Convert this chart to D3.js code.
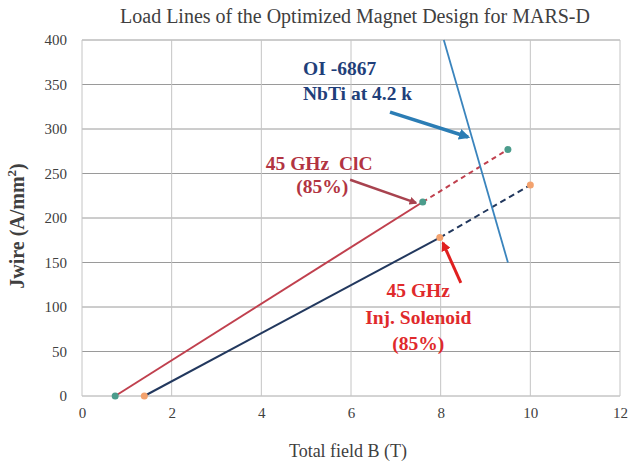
<!DOCTYPE html>
<html lang="en">
<head>
    <meta charset="UTF-8">
    <title>Load Lines - MARS-D</title>
    <script src="https://d3js.org/d3.v7.min.js"></script>
    <style>
        body { margin: 0; background: #fff; }
        svg text { font-family: "Liberation Serif", "Times New Roman", serif; }
    </style>
</head>
<body>
    <div id="chart"></div>

    <script>
        // Load line data (B in T, Jwire in A/mm^2)
        const cicSolid = [[0.74, 0], [7.6, 218]];
        const cicDashed = [[7.6, 218], [9.5, 277]];
        const solSolid = [[1.39, 0], [7.98, 178]];
        const solDashed = [[7.98, 178], [10.0, 237]];
        const nbtiLine = [[8.07, 400], [9.5, 150]];
        const cicMarkers = [[0.74, 0], [7.6, 218], [9.5, 277]];
        const solMarkers = [[1.39, 0], [7.98, 178], [10.0, 237]];

        const xTicks = [0, 2, 4, 6, 8, 10, 12];
        const yTicks = [0, 50, 100, 150, 200, 250, 300, 350, 400];

        // Annotation arrows: [from, to] in data units
        const arrows = [
            { from: [6.87, 319], to: [8.61, 291], color: '#2b7db5', width: 3.5 },
            { from: [5.98, 243], to: [7.45, 217], color: '#a8434f', width: 2.5 },
            { from: [8.45, 127], to: [8.05, 172], color: '#e02020', width: 3 }
        ];

        const width = 629, height = 465;
        const margin = { top: 40, right: 9, bottom: 69, left: 82 };

        const svg = d3.select('#chart').append('svg')
            .attr('width', width)
            .attr('height', height);

        const x = d3.scaleLinear().domain([0, 12]).range([margin.left, width - margin.right]);
        const y = d3.scaleLinear().domain([0, 400]).range([height - margin.bottom, margin.top]);

        // arrow head markers
        const defs = svg.append('defs');
        arrows.forEach((a, i) => {
            defs.append('marker')
                .attr('id', 'arr' + i)
                .attr('viewBox', '0 0 10 10')
                .attr('refX', 8).attr('refY', 5)
                .attr('markerWidth', 3.2).attr('markerHeight', 3.2)
                .attr('orient', 'auto')
                .append('path')
                .attr('d', 'M0,0 L10,5 L0,10 z')
                .attr('fill', a.color);
        });

        // gridlines
        svg.append('g')
            .selectAll('line')
            .data(yTicks)
            .enter().append('line')
            .attr('x1', x(0)).attr('x2', x(12))
            .attr('y1', d => y(d)).attr('y2', d => y(d))
            .attr('stroke', d => d === 0 ? '#a8a8a8' : '#9a9a9a')
            .attr('stroke-width', 1);

        svg.append('g')
            .selectAll('line')
            .data(xTicks)
            .enter().append('line')
            .attr('x1', d => x(d)).attr('x2', d => x(d))
            .attr('y1', y(0)).attr('y2', y(400))
            .attr('stroke', '#c4c4c4')
            .attr('stroke-width', 1);

        // axes (labels only)
        const xAxis = svg.append('g')
            .attr('transform', `translate(0,${y(0)})`)
            .call(d3.axisBottom(x).tickValues(xTicks).tickSize(0).tickPadding(11));
        const yAxis = svg.append('g')
            .attr('transform', `translate(${x(0)},0)`)
            .call(d3.axisLeft(y).tickValues(yTicks).tickSize(0).tickPadding(15));
        [xAxis, yAxis].forEach(ax => {
            ax.select('.domain').remove();
            ax.selectAll('text')
                .attr('font-family', '"Liberation Serif", serif')
                .attr('font-size', 15)
                .attr('fill', '#404040');
        });

        const line = d3.line().x(d => x(d[0])).y(d => y(d[1]));

        // load lines
        svg.append('path').datum(cicSolid).attr('d', line)
            .attr('fill', 'none').attr('stroke', '#c0404e').attr('stroke-width', 2);
        svg.append('path').datum(cicDashed).attr('d', line)
            .attr('fill', 'none').attr('stroke', '#c0404e').attr('stroke-width', 2)
            .attr('stroke-dasharray', '5,4');
        svg.append('path').datum(solSolid).attr('d', line)
            .attr('fill', 'none').attr('stroke', '#22385e').attr('stroke-width', 2);
        svg.append('path').datum(solDashed).attr('d', line)
            .attr('fill', 'none').attr('stroke', '#22385e').attr('stroke-width', 2)
            .attr('stroke-dasharray', '6,4');
        svg.append('path').datum(nbtiLine).attr('d', line)
            .attr('fill', 'none').attr('stroke', '#3a84bd').attr('stroke-width', 1.8);

        // markers
        svg.append('g').selectAll('circle')
            .data(cicMarkers)
            .enter().append('circle')
            .attr('cx', d => x(d[0])).attr('cy', d => y(d[1]))
            .attr('r', 3.5)
            .attr('fill', '#4b9c8c');
        svg.append('g').selectAll('circle')
            .data(solMarkers)
            .enter().append('circle')
            .attr('cx', d => x(d[0])).attr('cy', d => y(d[1]))
            .attr('r', 3.5)
            .attr('fill', '#f3a26e');

        // annotation arrows
        svg.append('g').selectAll('line')
            .data(arrows)
            .enter().append('line')
            .attr('x1', d => x(d.from[0])).attr('y1', d => y(d.from[1]))
            .attr('x2', d => x(d.to[0])).attr('y2', d => y(d.to[1]))
            .attr('stroke', d => d.color)
            .attr('stroke-width', d => d.width)
            .attr('marker-end', (d, i) => `url(#arr${i})`);

        // annotation text
        function note(lines, xv, yv, color, anchor) {
            const t = svg.append('text')
                .attr('font-size', 19.5)
                .attr('font-weight', 'bold')
                .attr('fill', color)
                .attr('text-anchor', anchor);
            lines.forEach((s, i) => {
                t.append('tspan')
                    .attr('x', x(xv))
                    .attr('y', y(yv[i]))
                    .attr('xml:space', 'preserve')
                    .text(s);
            });
        }
        note(['OI -6867', 'NbTi at 4.2 k'], 4.93, [361, 333], '#1f3f7a', 'start');
        note(['45 GHz  ClC'], 5.29, [254], '#b23442', 'middle');
        note(['(85%)'], 5.36, [228], '#b23442', 'middle');
        note(['45 GHz', 'Inj. Solenoid', '(85%)'], 7.5, [111, 81, 52], '#e0292b', 'middle');

        // title
        svg.append('text')
            .attr('x', 355).attr('y', 23)
            .attr('text-anchor', 'middle')
            .attr('font-size', 20)
            .attr('fill', '#404040')
            .text('Load Lines of the Optimized Magnet Design for MARS-D');

        // axis titles
        svg.append('text')
            .attr('x', 348).attr('y', 457)
            .attr('text-anchor', 'middle')
            .attr('font-size', 18)
            .attr('fill', '#404040')
            .text('Total field B (T)');

        const yt = svg.append('text')
            .attr('transform', 'translate(24,226) rotate(-90)')
            .attr('text-anchor', 'middle')
            .attr('font-size', 20)
            .attr('font-weight', 'bold')
            .attr('fill', '#404040');
        yt.append('tspan').text('Jwire  (A/mm');
        yt.append('tspan').attr('font-size', 13).attr('dy', -8).text('2');
        yt.append('tspan').attr('dy', 8).text(')');
    </script>
</body>
</html>
